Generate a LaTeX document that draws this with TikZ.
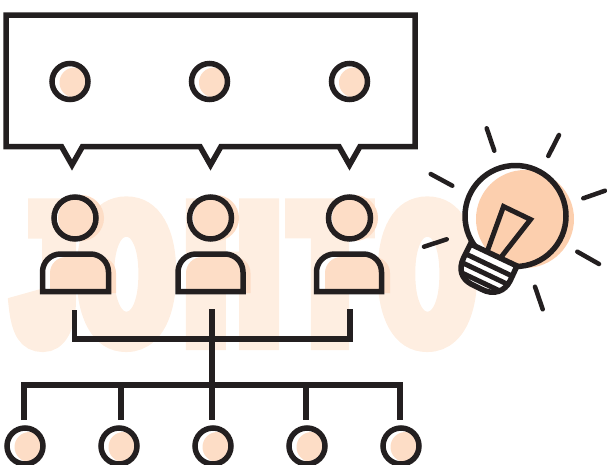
\documentclass[tikz,border=0pt]{standalone}
\usepackage{fontspec}
\newfontfamily\wmfont[FakeStretch=0.5,FakeBold=9.4]{Liberation Sans}
\usepackage{xcolor}
\definecolor{myink}{HTML}{231F20}
\definecolor{mypeach}{HTML}{FDDDC6}
\definecolor{mybulb}{HTML}{FCCFAE}
\definecolor{mycream}{HTML}{FEEEE1}
\tikzset{
  inkline/.style={draw=myink, line width=5.5pt, miter limit=10},
  ray/.style={draw=myink, line width=4.5pt, line cap=round},
  ring/.style={circle, draw=myink, line width=5.5pt, inner sep=0pt, minimum size=36pt},
  head/.style={ring, minimum size=42pt},
  letter/.style={text=mycream, inner sep=0pt, anchor=base,
    font=\wmfont\bfseries\fontsize{200}{200}\selectfont, xscale=1.2, yscale=0.97}
}
\begin{document}
\begin{tikzpicture}[x=1pt,y=-1pt]
\useasboundingbox (0,0) rectangle (607,464);

% watermark
\node[letter, xscale=0.85] (l1) at (45,341) {J};
\node[letter, xscale=0.94] (l2) at (126.5,341) {O};
\node[letter] (l3) at (232.5,341) {H};
\node[letter, xscale=0.96] (l4) at (330,341) {T};
\node[letter, xscale=0.94] (l5) at (427.5,341) {O};

% speech bubble
\draw[inkline] (6,15) -- (415,15) -- (415,146.5) -- (360,146.5) -- (349.5,165) -- (339,146.5)
  -- (221,146.5) -- (210.5,165) -- (200,146.5) -- (82.5,146.5) -- (72,165) -- (61.5,146.5)
  -- (6,146.5) -- cycle;

\fill[white] (70,81.5) circle (18pt);
\fill[white] (209.5,81.5) circle (18pt);
\fill[white] (349.5,81.5) circle (18pt);
\fill[mypeach] (74.5,82.5) circle (15pt);
\fill[mypeach] (214,82.5) circle (15pt);
\fill[mypeach] (354,82.5) circle (15pt);
\node[ring] (s1) at (70,81.5) {};
\node[ring] (s2) at (209.5,81.5) {};
\node[ring] (s3) at (349.5,81.5) {};

% people
\fill[white] (75,218) circle (21pt);
\fill[white] (210.5,218) circle (21pt);
\fill[white] (349.5,218) circle (21pt);
\fill[mypeach] (81,218) circle (23pt);
\fill[mypeach] (216,218) circle (23pt);
\fill[mypeach] (355,218) circle (23pt);
\node[head] (h1) at (75,218) {};
\node[head] (h2) at (210.5,218) {};
\node[head] (h3) at (349.5,218) {};

\fill[white] (42.5,291.5) [rounded corners=18pt] -- (42.5,254) -- (108.5,254) [sharp corners] -- (108.5,291.5) -- cycle;
\fill[white] (178,291.5) [rounded corners=18pt] -- (178,254) -- (243,254) [sharp corners] -- (243,291.5) -- cycle;
\fill[white] (316.5,291.5) [rounded corners=18pt] -- (316.5,254) -- (381.5,254) [sharp corners] -- (381.5,291.5) -- cycle;
\fill[mypeach] (50,293) [rounded corners=16pt] -- (50,257) -- (116,257) [sharp corners] -- (116,293) -- cycle;
\fill[mypeach] (186,293) [rounded corners=16pt] -- (186,257) -- (250.5,257) [sharp corners] -- (250.5,293) -- cycle;
\fill[mypeach] (325,293) [rounded corners=16pt] -- (325,257) -- (390,257) [sharp corners] -- (390,293) -- cycle;
\draw[inkline] (42.5,291.5) [rounded corners=18pt] -- (42.5,254) -- (108.5,254) [sharp corners] -- (108.5,291.5) -- cycle;
\draw[inkline] (178,291.5) [rounded corners=18pt] -- (178,254) -- (243,254) [sharp corners] -- (243,291.5) -- cycle;
\draw[inkline] (316.5,291.5) [rounded corners=18pt] -- (316.5,254) -- (381.5,254) [sharp corners] -- (381.5,291.5) -- cycle;

% tree
\coordinate (t1) at (74.5,310);
\coordinate (t2) at (212,309);
\coordinate (t3) at (350,309);
\coordinate (m1) at (74.5,339);
\coordinate (m3) at (350,339);
\coordinate (c1) at (24,420);
\coordinate (c2) at (121,420);
\coordinate (c3) at (212,420);
\coordinate (c4) at (306,420);
\coordinate (c5) at (400,420);
\coordinate (b1) at (24,385);
\coordinate (b2) at (121,385);
\coordinate (b4) at (306,385);
\coordinate (b5) at (400,385);

\draw[inkline] (t1) -- (m1) -- (m3) -- (t3);
\draw[inkline] (t2) -- (c3);
\draw[inkline] (c1) -- (b1) -- (b5) -- (c5);
\draw[inkline] (b2) -- (c2);
\draw[inkline] (b4) -- (c4);

\fill[white] (25,446) circle (18pt);
\fill[white] (119,446) circle (18pt);
\fill[white] (213,446) circle (18pt);
\fill[white] (307,446) circle (18pt);
\fill[white] (401,446) circle (18pt);
\fill[mypeach] (29.5,447) circle (15pt);
\fill[mypeach] (123.5,447) circle (15pt);
\fill[mypeach] (217.5,447) circle (15pt);
\fill[mypeach] (311.5,447) circle (15pt);
\fill[mypeach] (405.5,447) circle (15pt);
\node[ring] (n1) at (25,446) {};
\node[ring] (n2) at (119,446) {};
\node[ring] (n3) at (213,446) {};
\node[ring] (n4) at (307,446) {};
\node[ring] (n5) at (401,446) {};

% bulb
\fill[white] (515.5,216) circle (50.5pt);
\fill[mybulb] (525,219) circle (49pt);
\node[ring, minimum size=101pt] (globe) at (515.5,216) {};
\draw[inkline, line width=5pt] (487,252) -- (503.5,206.5) -- (530.5,219.5) -- (500,258.5);
\filldraw[fill=white, draw=myink, line width=5.5pt] (470.5,244) -- (463.5,258)
  .. controls (458,270) and (462,279) .. (471,284) -- (481,289)
  .. controls (494,296) and (505,291) .. (510,281) -- (517,266) -- cycle;
\draw[myink, line width=5pt] (467,254.5) -- (512,276);
\draw[myink, line width=5pt] (464,263.5) -- (507,284);
\draw[myink, line width=5pt] (461,272.5) -- (499,290.5);

\coordinate (r1a) at (486.7,128.3); \coordinate (r1b) at (494.3,150.7);
\coordinate (r2a) at (559,135); \coordinate (r2b) at (548.3,156);
\coordinate (r3a) at (605,190.7); \coordinate (r3b) at (583.3,198.3);
\coordinate (r4a) at (577.3,251.7); \coordinate (r4b) at (599,264);
\coordinate (r5a) at (535,286.7); \coordinate (r5b) at (542.7,309.3);
\coordinate (r6a) at (424,246.7); \coordinate (r6b) at (446.7,239.3);
\coordinate (r7a) at (430.7,174); \coordinate (r7b) at (452.3,185.7);
\draw[ray] (r1a) -- (r1b);
\draw[ray] (r2a) -- (r2b);
\draw[ray] (r3a) -- (r3b);
\draw[ray] (r4a) -- (r4b);
\draw[ray] (r5a) -- (r5b);
\draw[ray] (r6a) -- (r6b);
\draw[ray] (r7a) -- (r7b);

\end{tikzpicture}
\end{document}
